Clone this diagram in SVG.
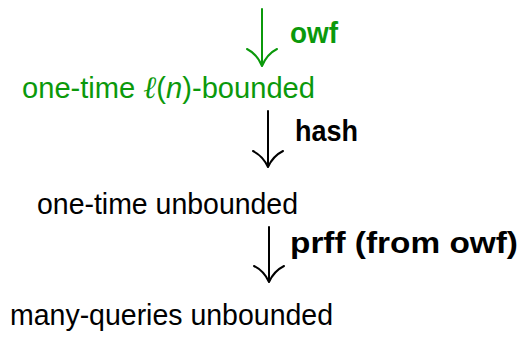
<svg xmlns="http://www.w3.org/2000/svg" width="525" height="337" viewBox="0 0 525 337">
<style>
text{font-family:"Liberation Sans",Arial,sans-serif;font-size:29px}
.g{fill:#0b990b}
.k{fill:#000}
.b{font-weight:bold}
.sh{fill:none;stroke-width:2;stroke-linecap:round}
.gs{stroke:#0b990b}
.ks{stroke:#000}
</style>
<rect width="525" height="337" fill="#fff"/>
<g id="connectors">
  <g id="e1">
    <path class="sh gs" d="M262,9 V65 M247,49 Q257,54 262,66 M277,49 Q267,54 262,66"/>
    <text class="g b" x="290" y="43" textLength="48" lengthAdjust="spacingAndGlyphs">owf</text>
  </g>
  <g id="e2">
    <path class="sh ks" d="M268,111 V166 M253,151 Q263,156 268,167 M283,151 Q273,156 268,167"/>
    <text class="k b" x="295" y="141" textLength="63" lengthAdjust="spacingAndGlyphs">hash</text>
  </g>
  <g id="e3">
    <path class="sh ks" d="M269,227 V281 M254,266 Q264,271 269,282 M284,266 Q274,271 269,282"/>
    <text class="k b" x="290" y="253" textLength="228" lengthAdjust="spacingAndGlyphs">prff (from owf)</text>
  </g>
</g>
<g id="n1">
  <text class="g" x="22" y="98" textLength="293" lengthAdjust="spacingAndGlyphs">one-time <tspan font-family="Liberation Serif,serif" font-style="italic" font-size="31">ℓ</tspan>(<tspan font-style="italic">n</tspan>)-bounded</text>
</g>
<g id="n2">
  <text class="k" x="37" y="214" textLength="261" lengthAdjust="spacingAndGlyphs">one-time unbounded</text>
</g>
<g id="n3">
  <text class="k" x="10" y="325" textLength="323" lengthAdjust="spacingAndGlyphs">many-queries unbounded</text>
</g>
</svg>
